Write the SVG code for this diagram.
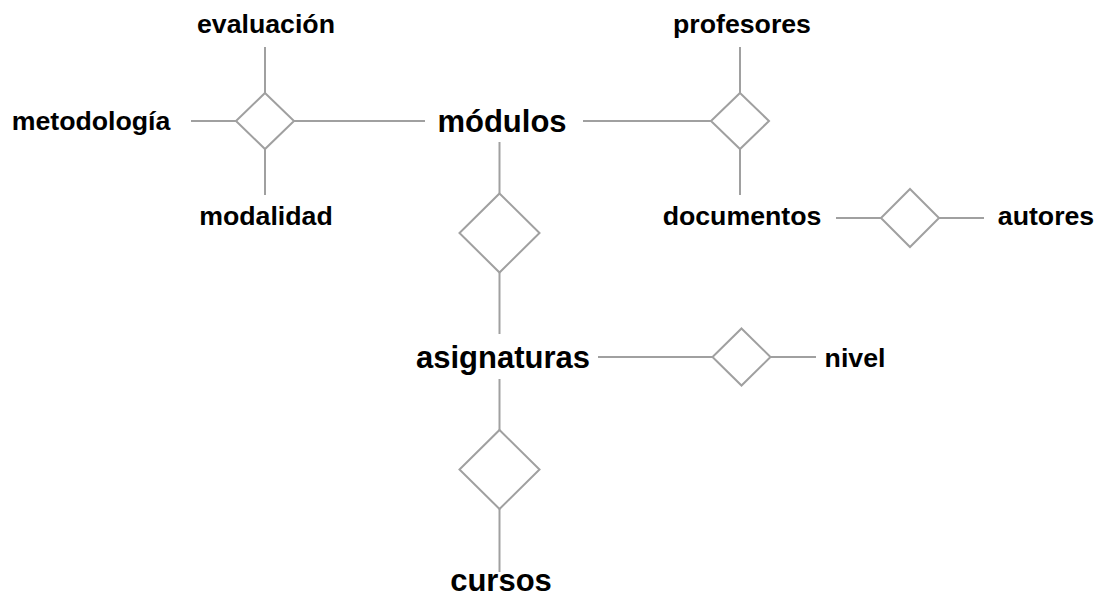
<svg xmlns="http://www.w3.org/2000/svg" width="1097" height="598" viewBox="0 0 1097 598">
<style>
.l{stroke:#a0a0a0;stroke-width:2;fill:none}
.d{stroke:#a0a0a0;stroke-width:2;fill:#fff}
.s{font-family:"Liberation Sans",Arial,sans-serif;font-weight:bold;font-size:26.7px;fill:#000;text-anchor:middle}
.b{font-family:"Liberation Sans",Arial,sans-serif;font-weight:bold;font-size:31px;fill:#000;text-anchor:middle}
</style>
<rect width="1097" height="598" fill="#fff"/>
<g id="connectors">
<line class="l" x1="265" y1="47" x2="265" y2="93"/>
<line class="l" x1="265" y1="149" x2="265" y2="195"/>
<line class="l" x1="191" y1="121" x2="236" y2="121"/>
<line class="l" x1="294" y1="121" x2="425" y2="121"/>
<line class="l" x1="583" y1="121" x2="711" y2="121"/>
<line class="l" x1="740" y1="47" x2="740" y2="93"/>
<line class="l" x1="740" y1="149" x2="740" y2="195"/>
<line class="l" x1="836" y1="218" x2="881" y2="218"/>
<line class="l" x1="939" y1="218" x2="984" y2="218"/>
<line class="l" x1="499.5" y1="142" x2="499.5" y2="193.5"/>
<line class="l" x1="499.5" y1="272.5" x2="499.5" y2="334"/>
<line class="l" x1="598" y1="357" x2="712.5" y2="357"/>
<line class="l" x1="770.5" y1="357" x2="816" y2="357"/>
<line class="l" x1="499.5" y1="379" x2="499.5" y2="430"/>
<line class="l" x1="499.5" y1="509" x2="499.5" y2="572"/>
</g>
<g id="rel-modulos-atributos"><polygon class="d" points="265,93 294,121 265,149 236,121"/></g>
<g id="rel-modulos-profesores"><polygon class="d" points="740,93 769,121 740,149 711,121"/></g>
<g id="rel-documentos-autores"><polygon class="d" points="910,189 939,218 910,247 881,218"/></g>
<g id="rel-modulos-asignaturas"><polygon class="d" points="499.5,193.5 539.5,233 499.5,272.5 459.5,233"/></g>
<g id="rel-asignaturas-nivel"><polygon class="d" points="741.5,328.5 770.5,357 741.5,385.5 712.5,357"/></g>
<g id="rel-asignaturas-cursos"><polygon class="d" points="499.5,430 539.5,469.5 499.5,509 459.5,469.5"/></g>
<g id="evaluacion"><text class="s" x="266" y="33">evaluación</text></g>
<g id="metodologia"><text class="s" x="91" y="130">metodología</text></g>
<g id="modalidad"><text class="s" x="266" y="225">modalidad</text></g>
<g id="modulos"><text class="b" x="502" y="132">módulos</text></g>
<g id="profesores"><text class="s" x="742" y="33">profesores</text></g>
<g id="documentos"><text class="s" x="742" y="225">documentos</text></g>
<g id="autores"><text class="s" x="1046" y="225">autores</text></g>
<g id="asignaturas"><text class="b" x="503" y="368">asignaturas</text></g>
<g id="nivel"><text class="s" x="855" y="367">nivel</text></g>
<g id="cursos"><text class="b" x="501" y="591">cursos</text></g>
</svg>
